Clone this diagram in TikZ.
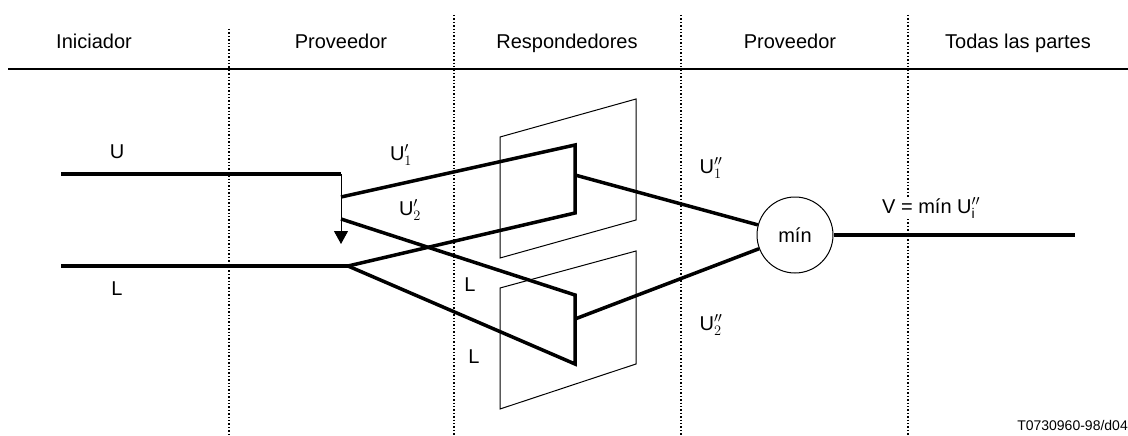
\documentclass[tikz,border=0pt]{standalone}
\usepackage{fontspec}
\setmainfont{Liberation Sans}
\usetikzlibrary{arrows.meta}
\begin{document}
\begin{tikzpicture}[x=1pt,y=-1pt,
  thickln/.style={line width=3.5pt, line join=miter},
  thinln/.style={line width=1pt},
  sepln/.style={line width=1.4pt, dash pattern=on 1.4pt off 2pt},
  lbl/.style={font=\fontsize{20}{24}\selectfont, inner sep=0pt},
  hdr/.style={lbl, anchor=base}]
\useasboundingbox (0,0) rectangle (1128,436);

% header
\node[hdr] (h1) at (94,49) {Iniciador};
\node[hdr] (h2) at (341,49) {Proveedor};
\node[hdr] (h3) at (567,49) {Respondedores};
\node[hdr] (h4) at (790,49) {Proveedor};
\node[hdr] (h5) at (1018,49) {Todas las partes};
\coordinate (hl) at (8,69);
\coordinate (hr) at (1128,69);
\draw[line width=2pt] (hl) -- (hr);

% dotted separators
\coordinate (d1t) at (229,29); \coordinate (d1b) at (229,436);
\coordinate (d2t) at (454,15); \coordinate (d2b) at (454,436);
\coordinate (d3t) at (681,15); \coordinate (d3b) at (681,436);
\coordinate (d4t) at (908,15); \coordinate (d4b) at (908,436);
\foreach \i in {1,2,3,4} \draw[sepln] (d\i t) -- (d\i b);

% parallelograms
\coordinate (p1a) at (500,137); \coordinate (p1b) at (636,99);
\coordinate (p1c) at (636,220); \coordinate (p1d) at (500,258);
\draw[thinln] (p1a) -- (p1b) -- (p1c) -- (p1d) -- cycle;
\coordinate (p2a) at (500,288); \coordinate (p2b) at (636,251);
\coordinate (p2c) at (636,364); \coordinate (p2d) at (500,409);
\draw[thinln] (p2a) -- (p2b) -- (p2c) -- (p2d) -- cycle;

% inputs
\coordinate (us) at (61,174);
\coordinate (uc) at (341,174);
\coordinate (ua) at (341,244);
\coordinate (u1s) at (341,197);
\coordinate (u2s) at (341,219);
\coordinate (ls) at (61,266);
\coordinate (lsp) at (348,266);
\coordinate (a1t) at (575,145); \coordinate (a1m) at (575,175); \coordinate (a1b) at (575,213);
\coordinate (a2t) at (575,295); \coordinate (a2m) at (575,319); \coordinate (a2b) at (575,364);

\draw[thickln] (us) -- (uc);
\draw[thinln, -{Triangle[length=13pt,width=14pt]}] (uc) -- (ua);
\draw[thickln] (ls) -- (lsp);
\draw[thickln] (u1s) -- (a1t) -- (a1b) -- (lsp);
\draw[thickln] (u2s) -- (a2t) -- (a2b) -- (lsp);

% min node
\node[draw, circle, thinln, minimum size=76pt, lbl] (mn) at (795,235) {mín};
\coordinate (oe) at (1075,235);
\draw[thickln] (a1m) -- (mn);
\draw[thickln] (a2m) -- (mn);
\draw[thickln] (mn) -- (oe);

% labels
\node[lbl] (lu) at (117,152) {U};
\node[lbl] (ll) at (117,289) {L};
\node[lbl] (lu1) at (401,155) {U$'_{1}$};
\node[lbl] (lu2) at (410,210) {U$'_{2}$};
\node[lbl] (ll1) at (470,285) {L};
\node[lbl] (ll2) at (474,357) {L};
\node[lbl] (lv1) at (711,168) {U$''_{1}$};
\node[lbl] (lv2) at (711,325) {U$''_{2}$};
\node[lbl, anchor=west, fill=white, inner sep=1pt] (lv) at (881,208) {V = mín U$''_{\mathrm{i}}$};
\node[font=\fontsize{14}{16}\selectfont, inner sep=0pt, anchor=east] (code) at (1128,425) {T0730960-98/d04};
\end{tikzpicture}
\end{document}
